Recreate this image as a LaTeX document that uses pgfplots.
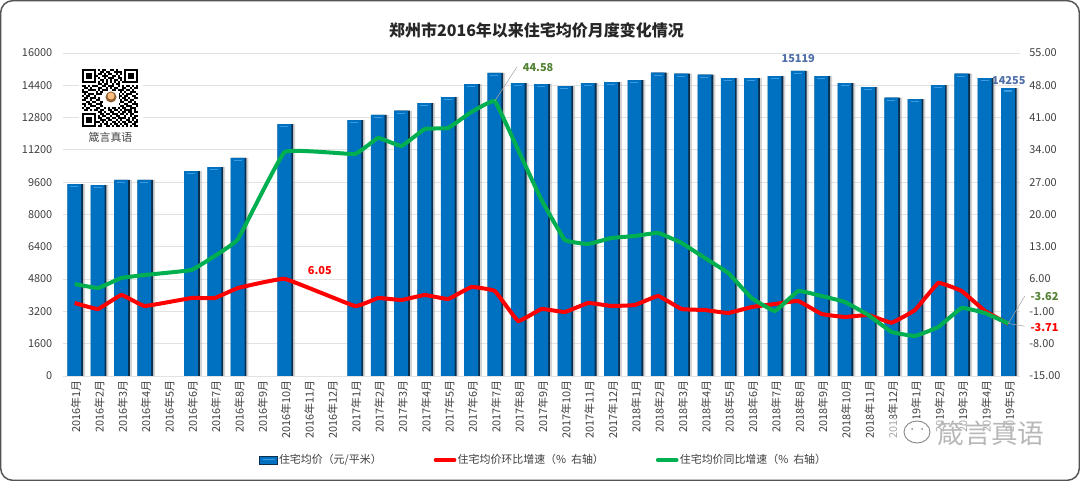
\documentclass[border=0pt]{standalone}
\usepackage{fontspec}
\usepackage{pgfplots}
\usepackage{pgfplotstable}
\pgfplotsset{compat=1.18}
\setmainfont{Noto Sans CJK SC}
\definecolor{barblue}{HTML}{0070C0}
\definecolor{bardark}{HTML}{0B2F4F}
\definecolor{bartop}{HTML}{3C9BE0}
\definecolor{gridc}{HTML}{E2E2E2}
\definecolor{txt}{HTML}{404040}
\definecolor{lred}{HTML}{FF0000}
\definecolor{lgreen}{HTML}{00B050}
\definecolor{lblblue}{HTML}{2F5597}
\definecolor{lblgreen}{HTML}{548235}
\pgfplotstableread{
x price
0 9510
1 9460
2 9710
3 9710
5 10150
6 10350
7 10800
9 12480
12 12680
13 12930
14 13150
15 13520
16 13820
17 14460
18 15010
19 14510
20 14460
21 14360
22 14510
23 14560
24 14660
25 15030
26 14980
27 14930
28 14760
29 14760
30 14860
31 15119
32 14860
33 14510
34 14310
35 13790
36 13720
37 14410
38 14980
39 14760
40 14255
}\pricetable
\pgfplotstableread{
x mom yoy
0 0.82 4.94
1 -0.48 4.07
2 2.56 6.24
3 0.17 6.89
5 1.90 7.97
6 1.90 11.01
7 4.07 14.69
9 6.05 33.55
12 0.17 33.11
13 1.90 36.58
14 1.47 34.85
15 2.56 38.53
16 1.69 38.75
17 4.29 42.22
18 3.42 44.58
19 -3.08 33.98
20 -0.48 23.15
21 -1.13 14.48
22 0.82 13.61
23 0.17 14.91
24 0.39 15.34
25 2.34 16.00
26 -0.48 13.83
27 -0.70 10.57
28 -1.35 7.32
29 -0.05 1.90
30 0.60 -0.91
31 1.25 3.42
32 -1.56 2.34
33 -2.21 1.04
34 -1.78 -1.78
35 -3.45 -5.46
36 -0.70 -6.33
37 5.16 -4.38
38 3.42 -0.26
39 -0.91 -1.35
40 -3.71 -3.62
}\ratetable
\newcount\qrx
\newcount\qry
\def\qrscan#1{\ifx#1;\let\qrnext\relax\else
  \if#11\fill[black] (\the\qrx,\the\qry) rectangle +(1,1);\fi
  \advance\qrx by 1 \let\qrnext\qrscan\fi\qrnext}
\def\qrrow#1{\qrx=0 \qrscan#1;\advance\qry by 1 }
\begin{document}
\begin{tikzpicture}
\pgfplotsset{
  common/.style={
    scale only axis, width=717.75pt, height=242.25pt,
    at={(47.25pt,78.75pt)}, anchor=south west,
    xmin=-0.5, xmax=40.5,
    axis line style={draw=none},
    major tick length=0pt,
    tick label style={font=\fontsize{8.2}{10}\selectfont, text=txt},
    clip=false,
  },
}
\path[use as bounding box] (0,0) rectangle (810pt,360.75pt);
\fill[white] (0,0) rectangle (810pt,360.75pt);
\begin{axis}[common,
  ymin=0, ymax=16000,
  ytick={0,1600,3200,4800,6400,8000,9600,11200,12800,14400,16000},
  scaled y ticks=false,
  yticklabel={\pgfmathprintnumber[fixed,precision=0,1000 sep={},assume math mode=true]{\tick}},
  yticklabel style={xshift=-4.5pt},
  ymajorgrids, grid style={gridc, line width=0.6pt},
  xtick={0,...,40},
  xticklabels={2016年1月,2016年2月,2016年3月,2016年4月,2016年5月,2016年6月,2016年7月,2016年8月,2016年9月,2016年10月,2016年11月,2016年12月,2017年1月,2017年2月,2017年3月,2017年4月,2017年5月,2017年6月,2017年7月,2017年8月,2017年9月,2017年10月,2017年11月,2017年12月,2018年1月,2018年2月,2018年3月,2018年4月,2018年5月,2018年6月,2018年7月,2018年8月,2018年9月,2018年10月,2018年11月,2018年12月,2019年1月,2019年2月,2019年3月,2019年4月,2019年5月},
  xticklabel style={rotate=90, anchor=east, xshift=0pt, yshift=-1pt},
]
\addplot[ybar, bar width=11.6pt, bar shift=2pt, draw=none, fill=black!30, fill opacity=0.55] table[x=x,y=price]{\pricetable};
\addplot[ybar, bar width=11.6pt, bar shift=0.5pt, draw=none, fill=bardark] table[x=x,y=price]{\pricetable};
\addplot[ybar, bar width=10.4pt, bar shift=-0.3pt, draw=none, fill=barblue] table[x=x,y=price]{\pricetable};
\addplot[only marks, mark=-, mark size=3pt, mark options={draw=bartop, line width=1pt, yshift=-2pt, xshift=-0.3pt}] table[x=x,y=price]{\pricetable};
\node[font=\bfseries\fontsize{8.2}{10}\selectfont, text=lblblue!85, anchor=south] at (axis cs:31,15119) {\raisebox{2.8pt}{15119}};
\node[font=\bfseries\fontsize{8.2}{10}\selectfont, text=lblblue!85, anchor=south, yshift=-1.2pt] at (axis cs:40.02,14255) {14255};
\end{axis}
\begin{axis}[common,
  ymin=-15, ymax=55,
  axis y line*=right, axis x line=none,
  ytick={-15,-8,-1,6,13,20,27,34,41,48,55},
  yticklabel={\pgfmathprintnumber[fixed,fixed zerofill,precision=2,assume math mode=true]{\tick}},
  yticklabel style={xshift=3.5pt},
  legend columns=-1,
  legend style={draw=none, fill=none, at={(0.502,-0.26)}, anchor=center,
    font=\fontsize{8.2}{10}\selectfont, text=txt,
    nodes={inner xsep=1pt},
    /tikz/every odd column/.append style={column sep=0pt},
    /tikz/every even column/.append style={column sep=38pt}},
]
\addlegendimage{legend image code/.code={\fill[barblue] (0pt,-3pt) rectangle (13pt,3pt);\draw[bardark,line width=.7pt] (0pt,-3pt) rectangle (13pt,3pt);\draw[bartop,line width=.8pt] (2pt,0.6pt)--(11pt,0.6pt);}}
\addlegendentry{住宅均价（元/平米）}
\addplot[lred, line width=3pt, smooth, tension=0.15, legend image code/.code={\draw[lred,line width=3pt,line cap=round] (1pt,0pt)--(15pt,0pt);}] table[x=x,y=mom]{\ratetable};
\addlegendentry{住宅均价环比增速（\%\ \ 右轴）}
\addplot[lgreen, line width=3pt, smooth, tension=0.15, legend image code/.code={\draw[lgreen,line width=3pt,line cap=round] (1pt,0pt)--(15pt,0pt);}] table[x=x,y=yoy]{\ratetable};
\addlegendentry{住宅均价同比增速（\%\ \ 右轴）}
\draw[black!35, line width=.4pt] (axis cs:18,44.58) -- (axis cs:18.95,52);
\draw[black!35, line width=.4pt] (axis cs:40,-3.62) -- (axis cs:40.7,2.3);
\draw[black!35, line width=.4pt] (axis cs:40,-3.62) -- (axis cs:40.7,-4.2);
\node[font=\bfseries\fontsize{8.2}{10}\selectfont, text=lblgreen, anchor=west] at (axis cs:19.0,51.85) {44.58};
\node[font=\bfseries\fontsize{8.2}{10}\selectfont, text=lred] at (axis cs:10.5,7.95) {6.05};
\node[font=\bfseries\fontsize{8.2}{10}\selectfont, text=lblgreen, anchor=west] at (axis cs:40.75,2.25) {-3.62};
\node[font=\bfseries\fontsize{8.2}{10}\selectfont, text=lred, anchor=west] at (axis cs:40.75,-4.5) {-3.71};
\end{axis}
\begin{scope}[x=0.75pt,y=-0.75pt,shift={(0,360.75pt)}]
\draw[txt!90, line width=1.1pt, rounded corners=9pt] (0.7,0.7) rectangle (1079.3,480.3);
\node[font=\bfseries\fontsize{12}{14}\selectfont, text=black!85] at (536.5,30.5) {郑州市2016年以来住宅均价月度变化情况};
% QR code
\fill[white] (79,66) rectangle (143,130);
\begin{scope}[shift={(82,69)}, x=1.5pt, y=-1.5pt]
\qry=0
\qrrow{1111111010110011010001111111}
\qrrow{1000001001101100111101000001}
\qrrow{1011101011010110010101011101}
\qrrow{1011101100111001101001011101}
\qrrow{1011101010010111001101011101}
\qrrow{1000001001101010110101000001}
\qrrow{1111111010101010101011111111}
\qrrow{0000000011011001011000000000}
\qrrow{1101011100110111001010110101}
\qrrow{0110100011001010110011001011}
\qrrow{1001111010111001101110110100}
\qrrow{1110000101100110010101001110}
\qrrow{0101110111000000011010111001}
\qrrow{1011001000000000001101100110}
\qrrow{0110111010000000001011010011}
\qrrow{1100100110000000000101101100}
\qrrow{0011011001100000010110011010}
\qrrow{1101100111011001101001100111}
\qrrow{0100111001101110010110111001}
\qrrow{1011000110010101101011001110}
\qrrow{0110101101100110110101111010}
\qrrow{0000000011010011001011011011}
\qrrow{1111111001101101110110101100}
\qrrow{1000001010110010011001001011}
\qrrow{1011101011001101101111010110}
\qrrow{1011101001110110010100110101}
\qrrow{1011101110101001101011011011}
\qrrow{1000001001011010110101100110}
\qrrow{1111111011001101011010101011}
\end{scope}
\fill[white] (103,91) rectangle (119,107);
\fill[brown!75!black] (111,97) circle (5.5);
\fill[orange!50!white] (111,96) circle (3.5);
\node[font=\fontsize{8.2}{10}\selectfont, text=txt] at (110.5,137.5) {箴言真语};
% watermark
\fill[white, opacity=0.55] (888,418) rectangle (1050,446);
\draw[white, line width=2pt, fill=white] (917,432) ellipse (15 and 12.5);
\draw[black!45, line width=.7pt] (917,432) ellipse (13 and 11);
\fill[black!45] (912,429) circle (1);
\fill[black!45] (922,429) circle (1);
\node[font=\fontsize{20}{24}\selectfont, text=black!28] at (991,433) {箴言真语};
\end{scope}
\end{tikzpicture}
\end{document}
